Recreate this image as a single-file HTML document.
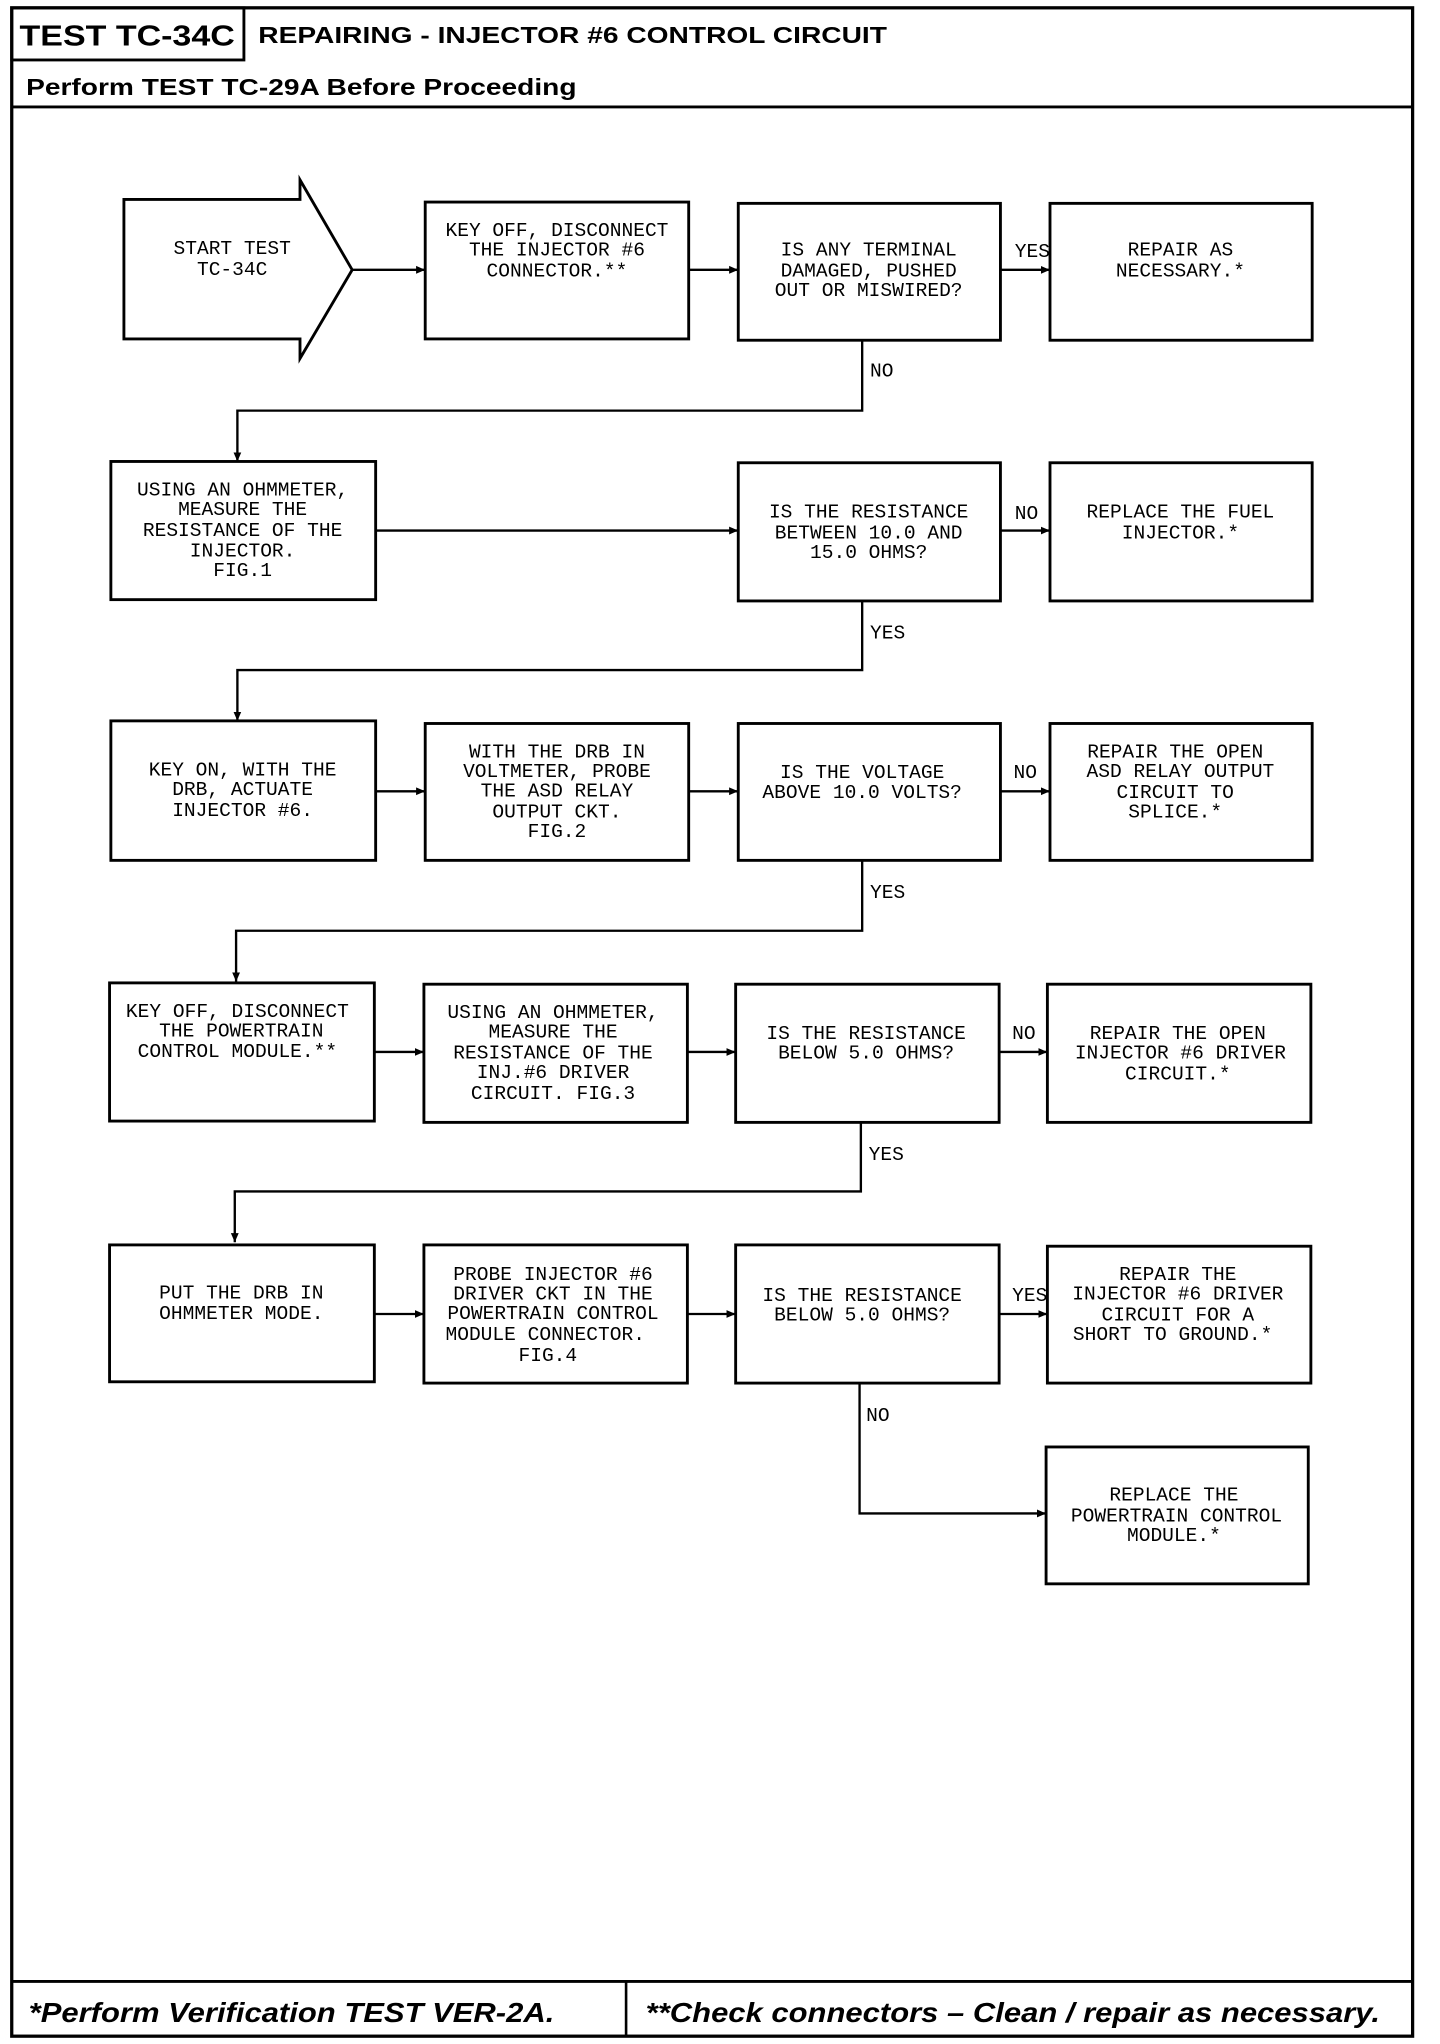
<!DOCTYPE html>
<html><head><meta charset="utf-8"><style>
html,body{margin:0;padding:0;background:#fff;}
svg{display:block;}
.b{fill:none;stroke:#000;stroke-width:2.2;}
.l{fill:none;stroke:#000;stroke-width:1.8;}
.t{font-family:"Liberation Mono",monospace;font-size:15px;text-anchor:middle;fill:#000;}
.lb{font-family:"Liberation Mono",monospace;font-size:15px;fill:#000;}
.h{font-family:"Liberation Sans",sans-serif;font-weight:bold;fill:#000;}
</style></head><body>
<svg width="1440" height="2044" viewBox="0 0 1104 1568" preserveAspectRatio="none" xmlns="http://www.w3.org/2000/svg">
<defs><marker id="a" markerWidth="8" markerHeight="8" refX="7" refY="4" orient="auto" markerUnits="userSpaceOnUse"><path d="M0,1 L7,4 L0,7 z" fill="#000"/></marker></defs>
<rect x="9" y="6" width="1074" height="1556" fill="none" stroke="#000" stroke-width="2.5"/>
<rect x="9" y="6" width="178" height="40" fill="none" stroke="#000" stroke-width="2.2"/>
<line x1="9" y1="82" x2="1083" y2="82" stroke="#000" stroke-width="2.2"/>
<line x1="9" y1="1520" x2="1083" y2="1520" stroke="#000" stroke-width="2.2"/>
<line x1="480" y1="1520" x2="480" y2="1562" stroke="#000" stroke-width="2"/>
<text class="h" x="15" y="35" font-size="22" textLength="165" lengthAdjust="spacingAndGlyphs">TEST TC-34C</text>
<text class="h" x="198" y="33" font-size="18" textLength="482" lengthAdjust="spacingAndGlyphs">REPAIRING - INJECTOR #6 CONTROL CIRCUIT</text>
<text class="h" x="20" y="73" font-size="18" textLength="422" lengthAdjust="spacingAndGlyphs">Perform TEST TC-29A Before Proceeding</text>
<text class="h" x="22" y="1551" font-size="21" font-style="italic" textLength="403" lengthAdjust="spacingAndGlyphs">*Perform Verification TEST VER-2A.</text>
<text class="h" x="495" y="1551" font-size="21" font-style="italic" textLength="563" lengthAdjust="spacingAndGlyphs">**Check connectors – Clean / repair as necessary.</text>

<path class="b" d="M95,153 L230,153 L230,138 L270,207 L230,275 L230,260 L95,260 Z"/>
<text class="t" x="178" y="195">START TEST</text><text class="t" x="178" y="211">TC-34C</text>
<rect class="b" x="326" y="155" width="202" height="105"/>
<text class="t" x="427" y="181">KEY OFF, DISCONNECT</text><text class="t" x="427" y="196">THE INJECTOR #6</text><text class="t" x="427" y="212">CONNECTOR.**</text>
<rect class="b" x="566" y="156" width="201" height="105"/>
<text class="t" x="666" y="196">IS ANY TERMINAL</text><text class="t" x="666" y="212">DAMAGED, PUSHED</text><text class="t" x="666" y="227">OUT OR MISWIRED?</text>
<rect class="b" x="805" y="156" width="201" height="105"/>
<text class="t" x="905" y="196">REPAIR AS</text><text class="t" x="905" y="212">NECESSARY.*</text>
<line class="l" x1="270" y1="207" x2="326" y2="207" marker-end="url(#a)"/>
<line class="l" x1="528" y1="207" x2="566" y2="207" marker-end="url(#a)"/>
<line class="l" x1="767" y1="207" x2="805" y2="207" marker-end="url(#a)"/>
<text class="lb" x="778" y="197">YES</text>
<path class="l" d="M661,261 L661,315 L182,315 L182,354" marker-end="url(#a)"/>
<text class="lb" x="667" y="289">NO</text>

<rect class="b" x="85" y="354" width="203" height="106"/>
<text class="t" x="186" y="380">USING AN OHMMETER,</text><text class="t" x="186" y="395">MEASURE THE</text><text class="t" x="186" y="411">RESISTANCE OF THE</text><text class="t" x="186" y="427">INJECTOR.</text><text class="t" x="186" y="442">FIG.1</text>
<rect class="b" x="566" y="355" width="201" height="106"/>
<text class="t" x="666" y="397">IS THE RESISTANCE</text><text class="t" x="666" y="413">BETWEEN 10.0 AND</text><text class="t" x="666" y="428">15.0 OHMS?</text>
<rect class="b" x="805" y="355" width="201" height="106"/>
<text class="t" x="905" y="397">REPLACE THE FUEL</text><text class="t" x="905" y="413">INJECTOR.*</text>
<line class="l" x1="288" y1="407" x2="566" y2="407" marker-end="url(#a)"/>
<line class="l" x1="767" y1="407" x2="805" y2="407" marker-end="url(#a)"/>
<text class="lb" x="778" y="398">NO</text>
<path class="l" d="M661,461 L661,514 L182,514 L182,553" marker-end="url(#a)"/>
<text class="lb" x="667" y="490">YES</text>

<rect class="b" x="85" y="553" width="203" height="107"/>
<text class="t" x="186" y="595">KEY ON, WITH THE</text><text class="t" x="186" y="610">DRB, ACTUATE</text><text class="t" x="186" y="626">INJECTOR #6.</text>
<rect class="b" x="326" y="555" width="202" height="105"/>
<text class="t" x="427" y="581">WITH THE DRB IN</text><text class="t" x="427" y="596">VOLTMETER, PROBE</text><text class="t" x="427" y="611">THE ASD RELAY</text><text class="t" x="427" y="627">OUTPUT CKT.</text><text class="t" x="427" y="642">FIG.2</text>
<rect class="b" x="566" y="555" width="201" height="105"/>
<text class="t" x="661" y="597">IS THE VOLTAGE</text><text class="t" x="661" y="612">ABOVE 10.0 VOLTS?</text>
<rect class="b" x="805" y="555" width="201" height="105"/>
<text class="t" x="901" y="581">REPAIR THE OPEN</text><text class="t" x="905" y="596">ASD RELAY OUTPUT</text><text class="t" x="901" y="612">CIRCUIT TO</text><text class="t" x="901" y="627">SPLICE.*</text>
<line class="l" x1="288" y1="607" x2="326" y2="607" marker-end="url(#a)"/>
<line class="l" x1="528" y1="607" x2="566" y2="607" marker-end="url(#a)"/>
<line class="l" x1="767" y1="607" x2="805" y2="607" marker-end="url(#a)"/>
<text class="lb" x="777" y="597">NO</text>
<path class="l" d="M661,660 L661,714 L181,714 L181,753" marker-end="url(#a)"/>
<text class="lb" x="667" y="689">YES</text>

<rect class="b" x="84" y="754" width="203" height="106"/>
<text class="t" x="182" y="780">KEY OFF, DISCONNECT</text><text class="t" x="185" y="795">THE POWERTRAIN</text><text class="t" x="182" y="811">CONTROL MODULE.**</text>
<rect class="b" x="325" y="755" width="202" height="106"/>
<text class="t" x="424" y="781">USING AN OHMMETER,</text><text class="t" x="424" y="796">MEASURE THE</text><text class="t" x="424" y="812">RESISTANCE OF THE</text><text class="t" x="424" y="827">INJ.#6 DRIVER</text><text class="t" x="424" y="843">CIRCUIT. FIG.3</text>
<rect class="b" x="564" y="755" width="202" height="106"/>
<text class="t" x="664" y="797">IS THE RESISTANCE</text><text class="t" x="664" y="812">BELOW 5.0 OHMS?</text>
<rect class="b" x="803" y="755" width="202" height="106"/>
<text class="t" x="903" y="797">REPAIR THE OPEN</text><text class="t" x="905" y="812">INJECTOR #6 DRIVER</text><text class="t" x="903" y="828">CIRCUIT.*</text>
<line class="l" x1="287" y1="807" x2="325" y2="807" marker-end="url(#a)"/>
<line class="l" x1="527" y1="807" x2="564" y2="807" marker-end="url(#a)"/>
<line class="l" x1="766" y1="807" x2="803" y2="807" marker-end="url(#a)"/>
<text class="lb" x="776" y="797">NO</text>
<path class="l" d="M660,861 L660,914 L180,914 L180,953" marker-end="url(#a)"/>
<text class="lb" x="666" y="890">YES</text>

<rect class="b" x="84" y="955" width="203" height="105"/>
<text class="t" x="185" y="996">PUT THE DRB IN</text><text class="t" x="185" y="1012">OHMMETER MODE.</text>
<rect class="b" x="325" y="955" width="202" height="106"/>
<text class="t" x="424" y="982">PROBE INJECTOR #6</text><text class="t" x="424" y="997">DRIVER CKT IN THE</text><text class="t" x="424" y="1012">POWERTRAIN CONTROL</text><text class="t" x="418" y="1028">MODULE CONNECTOR.</text><text class="t" x="420" y="1044">FIG.4</text>
<rect class="b" x="564" y="955" width="202" height="106"/>
<text class="t" x="661" y="998">IS THE RESISTANCE</text><text class="t" x="661" y="1013">BELOW 5.0 OHMS?</text>
<rect class="b" x="803" y="956" width="202" height="105"/>
<text class="t" x="903" y="982">REPAIR THE</text><text class="t" x="903" y="997">INJECTOR #6 DRIVER</text><text class="t" x="903" y="1013">CIRCUIT FOR A</text><text class="t" x="899" y="1028">SHORT TO GROUND.*</text>
<line class="l" x1="287" y1="1008" x2="325" y2="1008" marker-end="url(#a)"/>
<line class="l" x1="527" y1="1008" x2="564" y2="1008" marker-end="url(#a)"/>
<line class="l" x1="766" y1="1008" x2="803" y2="1008" marker-end="url(#a)"/>
<text class="lb" x="776" y="998">YES</text>
<path class="l" d="M659,1061 L659,1161 L802,1161" marker-end="url(#a)"/>
<text class="lb" x="664" y="1090">NO</text>
<rect class="b" x="802" y="1110" width="201" height="105"/>
<text class="t" x="900" y="1151">REPLACE THE</text><text class="t" x="902" y="1167">POWERTRAIN CONTROL</text><text class="t" x="900" y="1182">MODULE.*</text>
</svg>
</body></html>
